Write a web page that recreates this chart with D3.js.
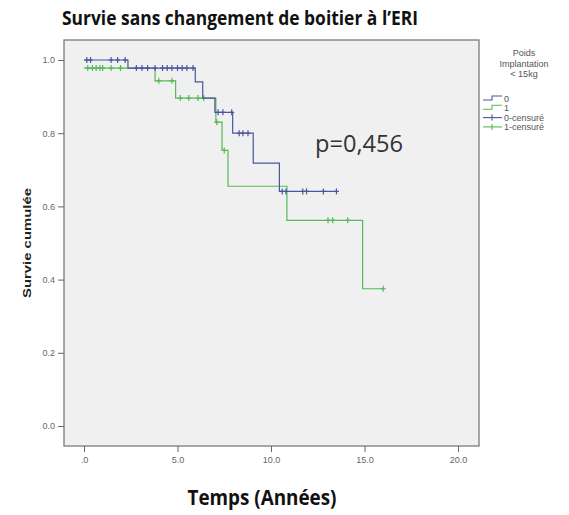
<!DOCTYPE html>
<html><head><meta charset="utf-8">
<script src="https://cdn.jsdelivr.net/npm/d3@7"></script>
<style>body{margin:0;background:#fff}svg{display:block}</style>
</head><body>
<svg id="c" width="569" height="515"></svg>
<script>
// Step data (time, survival) for each group
const g0Times = [0, 2.35, 5.95, 6.35, 7.0, 7.95, 9.05, 10.45];
const g0Surv  = [1.0, 0.978, 0.94, 0.896, 0.857, 0.80, 0.718, 0.641];
const g0End = 13.5;
const g0CensTimes = [0.15, 0.35, 1.45, 1.8, 2.2, 2.8, 3.1, 3.4, 3.8, 4.2, 4.45, 4.7, 5.0, 5.25, 5.5, 5.83, 7.17, 7.43, 7.9, 8.3, 8.5, 8.77, 10.6, 10.8, 11.7, 11.9, 12.8, 13.5];

const g1Times = [0, 3.8, 4.9, 7.05, 7.38, 7.7, 10.85, 14.9];
const g1Surv  = [0.978, 0.943, 0.896, 0.83, 0.753, 0.655, 0.562, 0.375];
const g1End = 16.0;
const g1CensTimes = [0.2, 0.45, 0.65, 0.85, 1.0, 1.45, 1.95, 4.0, 4.7, 5.15, 5.6, 6.1, 6.4, 7.1, 7.5, 13.05, 13.3, 14.1, 16.0];

const xTicks = [0, 5, 10, 15, 20];
const xTickLabels = [".0", "5.0", "10.0", "15.0", "20.0"];
const yTicks = [0, 0.2, 0.4, 0.6, 0.8, 1.0];
const yTickLabels = ["0.0", "0.2", "0.4", "0.6", "0.8", "1.0"];
const legendLabels = ["0", "1", "0-censuré", "1-censuré"];

const BLUE = "#4b559e", GREEN = "#56b956";
const svg = d3.select("#c");
const x = d3.scaleLinear().domain([0, 20]).range([84, 458]);
const y = d3.scaleLinear().domain([0, 1]).range([426, 60]);
const frame = {l: 64, r: 479, t: 40, b: 446};

// plot background
svg.append("rect").attr("x", frame.l).attr("y", frame.t)
  .attr("width", frame.r - frame.l).attr("height", frame.b - frame.t)
  .attr("fill", "#f0f0f0").attr("stroke", "#7a7a7a").attr("stroke-width", 1.3);

// axes
const xAxis = d3.axisBottom(x).tickValues(xTicks).tickFormat((d, i) => xTickLabels[i]).tickSize(6).tickSizeOuter(0);
const gx = svg.append("g").attr("transform", `translate(0,${frame.b})`).call(xAxis);
gx.select(".domain").remove();
gx.selectAll("line").attr("stroke", "#666");
gx.selectAll("text").attr("font-family", "Liberation Sans, Arial, sans-serif").attr("font-size", 9).attr("fill", "#666").attr("dy", "0.9em");

const yAxis = d3.axisLeft(y).tickValues(yTicks).tickFormat((d, i) => yTickLabels[i]).tickSize(6).tickSizeOuter(0);
const gy = svg.append("g").attr("transform", `translate(${frame.l},0)`).call(yAxis);
gy.select(".domain").remove();
gy.selectAll("line").attr("stroke", "#666");
gy.selectAll("text").attr("font-family", "Liberation Sans, Arial, sans-serif").attr("font-size", 9).attr("fill", "#666");

function stepPts(times, surv, end) {
  const pts = [];
  times.forEach((t, i) => {
    if (i > 0) pts.push([t, surv[i - 1]]);
    pts.push([t, surv[i]]);
  });
  pts.push([end, surv[surv.length - 1]]);
  return pts;
}
function survAt(times, surv, t) {
  let s = surv[0];
  for (let i = 0; i < times.length; i++) if (times[i] <= t) s = surv[i];
  return s;
}
const line = d3.line().x(d => x(d[0])).y(d => y(d[1]));

function drawGroup(times, surv, end, cens, color) {
  svg.append("path").attr("d", line(stepPts(times, surv, end)))
    .attr("fill", "none").attr("stroke", color).attr("stroke-width", 1.2);
  const g = svg.append("g").attr("stroke", color).attr("stroke-width", 1.2);
  cens.forEach(t => {
    const cx = x(t), cy = y(survAt(times, surv, t));
    g.append("line").attr("x1", cx).attr("x2", cx).attr("y1", cy - 3).attr("y2", cy + 3);
    g.append("line").attr("x1", cx - 2.5).attr("x2", cx + 2.5).attr("y1", cy).attr("y2", cy);
  });
}
drawGroup(g1Times, g1Surv, g1End, g1CensTimes, GREEN);
drawGroup(g0Times, g0Surv, g0End, g0CensTimes, BLUE);

// title
svg.append("text").attr("x", 240).attr("y", 25).attr("text-anchor", "middle")
  .attr("font-family", "Open Sans, sans-serif").attr("font-weight", "bold").attr("font-size", 19)
  .attr("textLength", 356).attr("lengthAdjust", "spacingAndGlyphs").attr("fill", "#111")
  .text("Survie sans changement de boitier à l’ERI");

// x label
svg.append("text").attr("x", 262).attr("y", 505).attr("text-anchor", "middle")
  .attr("font-family", "Open Sans, sans-serif").attr("font-weight", "bold").attr("font-size", 21)
  .attr("textLength", 149).attr("lengthAdjust", "spacingAndGlyphs").attr("fill", "#111")
  .text("Temps (Années)");

// y label
svg.append("text").attr("transform", "translate(31,243) rotate(-90)").attr("text-anchor", "middle")
  .attr("font-family", "Liberation Sans, Arial, sans-serif").attr("font-weight", "bold").attr("font-size", 11)
  .attr("textLength", 110).attr("lengthAdjust", "spacingAndGlyphs").attr("fill", "#222")
  .text("Survie cumulée");

// p-value
svg.append("text").attr("x", 315).attr("y", 152)
  .attr("font-family", "Open Sans, sans-serif").attr("font-size", 23)
  .attr("textLength", 88).attr("lengthAdjust", "spacingAndGlyphs").attr("fill", "#333")
  .text("p=0,456");

// legend
const lg = svg.append("g").attr("font-family", "Liberation Sans, Arial, sans-serif").attr("font-size", 9).attr("fill", "#555");
["Poids", "Implantation", "< 15kg"].forEach((t, i) => {
  lg.append("text").attr("x", 524).attr("y", 56 + i * 10.5).attr("text-anchor", "middle").text(t);
});
const legColors = [BLUE, GREEN, BLUE, GREEN];
legendLabels.forEach((t, i) => {
  const yy = 99 + i * 9.3;
  const c = legColors[i];
  if (i < 2) {
    lg.append("path").attr("d", `M483,${yy + 1}H492V${yy - 3}H502`).attr("fill", "none").attr("stroke", c).attr("stroke-width", 1.1);
  } else {
    lg.append("line").attr("x1", 483).attr("x2", 502).attr("y1", yy).attr("y2", yy).attr("stroke", c).attr("stroke-width", 1.1);
    lg.append("line").attr("x1", 492).attr("x2", 492).attr("y1", yy - 3).attr("y2", yy + 3).attr("stroke", c).attr("stroke-width", 1.1);
  }
  lg.append("text").attr("x", 504).attr("y", yy + 3).text(t);
});
</script>
</body></html>
